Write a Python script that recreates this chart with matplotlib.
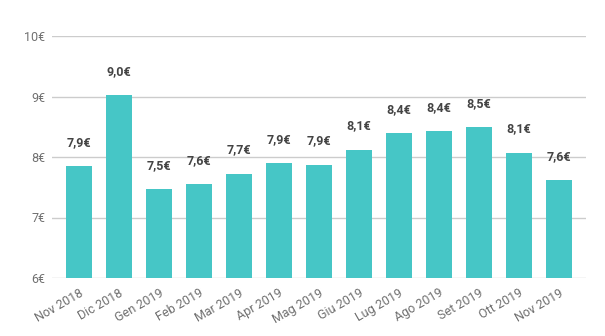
import matplotlib
matplotlib.use("Agg")
import matplotlib.pyplot as plt
import numpy as np

plt.rcParams['font.family'] = ['Roboto', 'DejaVu Sans']

mesi = ["Nov 2018", "Dic 2018", "Gen 2019", "Feb 2019", "Mar 2019", "Apr 2019",
        "Mag 2019", "Giu 2019", "Lug 2019", "Ago 2019", "Set 2019", "Ott 2019",
        "Nov 2019"]
prezzi = [7.85, 9.02, 7.47, 7.55, 7.72, 7.90, 7.87, 8.12, 8.39, 8.43, 8.49, 8.07, 7.62]
etichette = ["7,9€", "9,0€", "7,5€", "7,6€", "7,7€", "7,9€", "7,9€", "8,1€",
             "8,4€", "8,4€", "8,5€", "8,1€", "7,6€"]
yticks = [6, 7, 8, 9, 10]

fig = plt.figure(figsize=(6.05, 3.36), dpi=100)
ax = fig.add_axes([52/605, 1-278/336, (586-52)/605, (278-36)/336])

x = np.arange(len(mesi))
bars = ax.bar(x, prezzi, width=0.65, color="#46c6c6", zorder=3)

for xi, v, lab in zip(x, prezzi, etichette):
    ax.annotate(lab, (xi, v), xytext=(0, 12.5), textcoords="offset points",
                ha="center", va="bottom", fontsize=9, fontweight="bold",
                color="#444444")

ax.set_ylim(6, 10)
ax.set_xlim(-0.675, len(mesi) - 1 + 0.675)
ax.set_yticks(yticks)
ax.set_yticklabels([f"{t}€" for t in yticks])
ax.set_xticks(x)
ax.set_xticklabels(mesi, rotation=30, ha="right", rotation_mode="anchor")
ax.tick_params(axis="both", length=0, labelsize=9, labelcolor="#707070")
ax.tick_params(axis="y", pad=5)
ax.tick_params(axis="x", pad=6)

ax.grid(axis="y", color="#cccccc", linewidth=1, zorder=0)
for s in ax.spines.values():
    s.set_visible(False)

fig.savefig("out.png", dpi=100)
